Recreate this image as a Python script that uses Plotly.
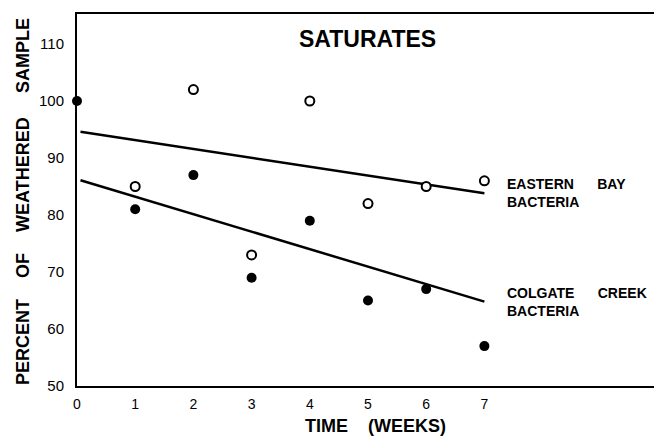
import plotly.graph_objects as go

# ---- data ----
weeks_colgate = [0, 1, 2, 3, 4, 5, 6, 7]
colgate_values = [100, 81, 87, 69, 79, 65, 67, 57]

weeks_eastern = [1, 2, 3, 4, 5, 6, 7]
eastern_values = [85, 102, 73, 100, 82, 85, 86]

fit_weeks = [0.06, 7]
eastern_fit = [94.6, 83.8]
colgate_fit = [86.1, 64.8]

x_ticks = [0, 1, 2, 3, 4, 5, 6, 7]
y_ticks = [50, 60, 70, 80, 90, 100, 110]

title_text = "SATURATES"
x_title = "TIME\u00a0\u00a0\u00a0\u00a0(WEEKS)"
y_title_words = ["PERCENT", "OF", "WEATHERED", "SAMPLE"]

# ---- layout geometry ----
W, H = 654, 442
L, R, T, B = 77, 0, 14, 56
PW, PH = W - L - R, H - T - B

def px(xp):
    return (xp - L) / PW

def py(yp):
    return (H - B - yp) / PH

FONT = "Liberation Sans, Arial, sans-serif"

fig = go.Figure()

fig.add_trace(go.Scatter(x=fit_weeks, y=eastern_fit, mode="lines",
                         line=dict(color="black", width=2.5), showlegend=False,
                         hoverinfo="skip"))
fig.add_trace(go.Scatter(x=fit_weeks, y=colgate_fit, mode="lines",
                         line=dict(color="black", width=2.5), showlegend=False,
                         hoverinfo="skip"))
fig.add_trace(go.Scatter(x=weeks_eastern, y=eastern_values, mode="markers",
                         marker=dict(symbol="circle", size=9, color="white",
                                     line=dict(color="black", width=2)),
                         name="Eastern Bay Bacteria", showlegend=False,
                         cliponaxis=False))
fig.add_trace(go.Scatter(x=weeks_colgate, y=colgate_values, mode="markers",
                         marker=dict(symbol="circle", size=10, color="black",
                                     line=dict(width=0)),
                         name="Colgate Creek Bacteria", showlegend=False,
                         cliponaxis=False))

annotations = []
# chart title
annotations.append(dict(text="<b>" + title_text + "</b>", x=px(367), y=py(39),
                        xref="paper", yref="paper", showarrow=False,
                        xanchor="center", yanchor="middle",
                        font=dict(family=FONT, size=23, color="black")))
# series labels
sp = "\u00a0" * 6
annotations.append(dict(text="<b>EASTERN" + sp + "BAY<br>BACTERIA</b>",
                        x=px(505), y=py(192.5), xref="paper", yref="paper",
                        showarrow=False, xanchor="left", yanchor="middle",
                        align="left",
                        font=dict(family=FONT, size=14, color="black")))
annotations.append(dict(text="<b>COLGATE" + sp + "CREEK<br>BACTERIA</b>",
                        x=px(505), y=py(302), xref="paper", yref="paper",
                        showarrow=False, xanchor="left", yanchor="middle",
                        align="left",
                        font=dict(family=FONT, size=14, color="black")))
# x title
annotations.append(dict(text="<b>" + x_title + "</b>", x=px(375), y=py(426),
                        xref="paper", yref="paper", showarrow=False,
                        xanchor="center", yanchor="middle",
                        font=dict(family=FONT, size=18, color="black")))
# y title words
y_word_centers = [342, 266, 175, 56]
for word, yc in zip(y_title_words, y_word_centers):
    annotations.append(dict(text="<b>" + word + "</b>", x=px(23), y=py(yc),
                            xref="paper", yref="paper", showarrow=False,
                            textangle=-90, xanchor="center", yanchor="middle",
                            font=dict(family=FONT, size=18, color="black")))

fig.update_layout(
    width=W, height=H,
    margin=dict(l=L, r=R, t=T, b=B, pad=0),
    paper_bgcolor="white", plot_bgcolor="white",
    font=dict(family=FONT, color="black"),
    annotations=annotations,
    xaxis=dict(range=[0, PW / 58.2], tickvals=x_ticks,
               ticktext=[str(v) for v in x_ticks],
               showline=True, linecolor="black", linewidth=2, mirror=True,
               showgrid=False, zeroline=False, ticks="",
               ticklabelstandoff=4,
               tickfont=dict(family=FONT, size=14, color="black")),
    yaxis=dict(range=[50, 50 + PH / 5.7], tickvals=y_ticks,
               showline=True, linecolor="black", linewidth=2,
               showgrid=False, zeroline=False, ticks="",
               ticklabelstandoff=8,
               tickfont=dict(family=FONT, size=15, color="black")),
)

fig.write_html("out.html")
